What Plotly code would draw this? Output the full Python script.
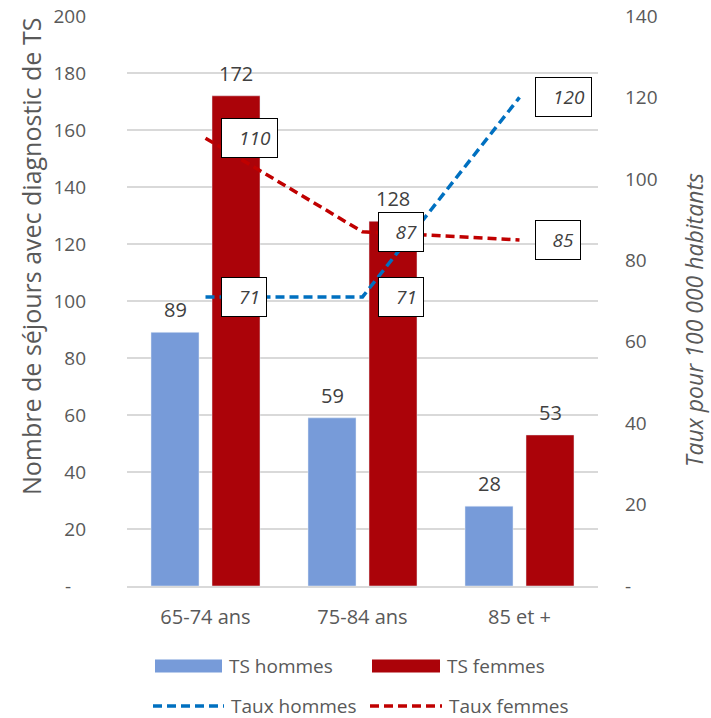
import plotly.graph_objects as go

# Data
categories = ["65-74 ans", "75-84 ans", "85 et +"]
ts_hommes = [89, 59, 28]
ts_femmes = [172, 128, 53]
taux_hommes = [71, 71, 120]
taux_femmes = [110, 87, 85]

left_ticks = [0, 20, 40, 60, 80, 100, 120, 140, 160, 180, 200]
right_ticks = [0, 20, 40, 60, 80, 100, 120, 140]

BLUE_BAR = "#779BD9"
RED_BAR = "#AB0309"
BLUE_LINE = "#0070C0"
RED_LINE = "#C00000"
TXT = "#595959"
FONT = "Open Sans"

fig = go.Figure()
fig.add_trace(go.Bar(x=categories, y=ts_hommes, name="TS hommes",
                     marker=dict(color=BLUE_BAR), yaxis="y"))
fig.add_trace(go.Bar(x=categories, y=ts_femmes, name="TS femmes",
                     marker=dict(color=RED_BAR), yaxis="y"))
fig.add_trace(go.Scatter(x=categories, y=taux_hommes, name="Taux hommes", mode="lines",
                         line=dict(color=BLUE_LINE, width=3.5, dash="9px,5px"), yaxis="y2"))
fig.add_trace(go.Scatter(x=categories, y=taux_femmes, name="Taux femmes", mode="lines",
                         line=dict(color=RED_LINE, width=3.5, dash="9px,5px"), yaxis="y2"))

annotations = []
# value labels above bars
for vals, shift in ((ts_hommes, -30.5), (ts_femmes, 30.5)):
    for c, v in zip(categories, vals):
        annotations.append(dict(x=c, y=v, xref="x", yref="y", text=str(v), showarrow=False,
                                xshift=shift, yanchor="bottom", yshift=7,
                                font=dict(family=FONT, size=20, color="#404040")))
# boxed rate labels to the right of each line point
for vals in (taux_hommes, taux_femmes):
    for c, v in zip(categories, vals):
        t = str(v)
        annotations.append(dict(x=c, y=v, xref="x", yref="y2", text="<i>%s</i>" % t,
                                showarrow=False, xanchor="left", yanchor="middle", xshift=15,
                                width=11 * len(t) + 10, align="right",
                                bgcolor="white", bordercolor="#000000", borderwidth=1,
                                borderpad=6,
                                font=dict(family=FONT, size=19, color="#404040")))

# helpers: pixel position -> paper fraction of the plot area
def px_x(p):
    return (p - 127) / 471.0
def px_y(p):
    return (586 - p) / 570.0

# axis titles
annotations.append(dict(x=px_x(31), y=px_y(257), xref="paper", yref="paper",
                        text="Nombre de séjours avec diagnostic de TS", textangle=-90,
                        showarrow=False, xanchor="center", yanchor="middle",
                        font=dict(family=FONT, size=25, color=TXT)))
annotations.append(dict(x=px_x(694), y=px_y(320), xref="paper", yref="paper",
                        text="<i>Taux pour 100 000 habitants</i>", textangle=-90,
                        showarrow=False, xanchor="center", yanchor="middle",
                        font=dict(family=FONT, size=23, color=TXT)))

# legend drawn as swatches + labels below the plot
shapes = []
legend_items = [
    ("rect", BLUE_BAR, "TS hommes", 155, 222, 666),
    ("rect", RED_BAR, "TS femmes", 372, 440, 666),
    ("line", BLUE_LINE, "Taux hommes", 153, 224, 706),
    ("line", RED_LINE, "Taux femmes", 370, 442, 706),
]
for kind, col, label, x0, x1, yc in legend_items:
    if kind == "rect":
        shapes.append(dict(type="rect", xref="paper", yref="paper",
                           x0=px_x(x0), x1=px_x(x1), y0=px_y(yc + 6.5), y1=px_y(yc - 6.5),
                           fillcolor=col, line=dict(width=0)))
    else:
        shapes.append(dict(type="line", xref="paper", yref="paper",
                           x0=px_x(x0), x1=px_x(x1), y0=px_y(yc), y1=px_y(yc),
                           line=dict(color=col, width=3.5, dash="9px,5px")))
    annotations.append(dict(x=px_x(x1 + 5), y=px_y(yc), xref="paper", yref="paper",
                            text=label, showarrow=False, xanchor="left", yanchor="middle",
                            font=dict(family=FONT, size=19, color=TXT)))

fig.update_layout(
    width=711, height=718,
    margin=dict(l=127, r=113, t=16, b=132, autoexpand=False),
    paper_bgcolor="white", plot_bgcolor="white",
    barmode="group", bargap=0.223, bargroupgap=0.213,
    showlegend=False,
    font=dict(family=FONT, color=TXT),
    xaxis=dict(type="category", showgrid=False, showline=True, linecolor="#D9D9D9",
               linewidth=1.5, ticks="", ticklabelstandoff=12, automargin=False,
               tickfont=dict(size=20, color=TXT)),
    yaxis=dict(range=[0, 200], tickvals=left_ticks, automargin=False,
               ticktext=["-\u00a0\u00a0\u00a0"] + [str(t) for t in left_ticks[1:]],
               showgrid=True, gridcolor="#D9D9D9", gridwidth=1.5, zeroline=False,
               ticklabelstandoff=40, tickfont=dict(size=19, color=TXT)),
    yaxis2=dict(range=[0, 140], tickvals=right_ticks, automargin=False,
                ticktext=["-"] + [str(t) for t in right_ticks[1:]],
                overlaying="y", side="right", showgrid=False, zeroline=False,
                ticklabelstandoff=26, tickfont=dict(size=19, color=TXT)),
    annotations=annotations,
    shapes=shapes,
)

fig.write_html("out.html")
